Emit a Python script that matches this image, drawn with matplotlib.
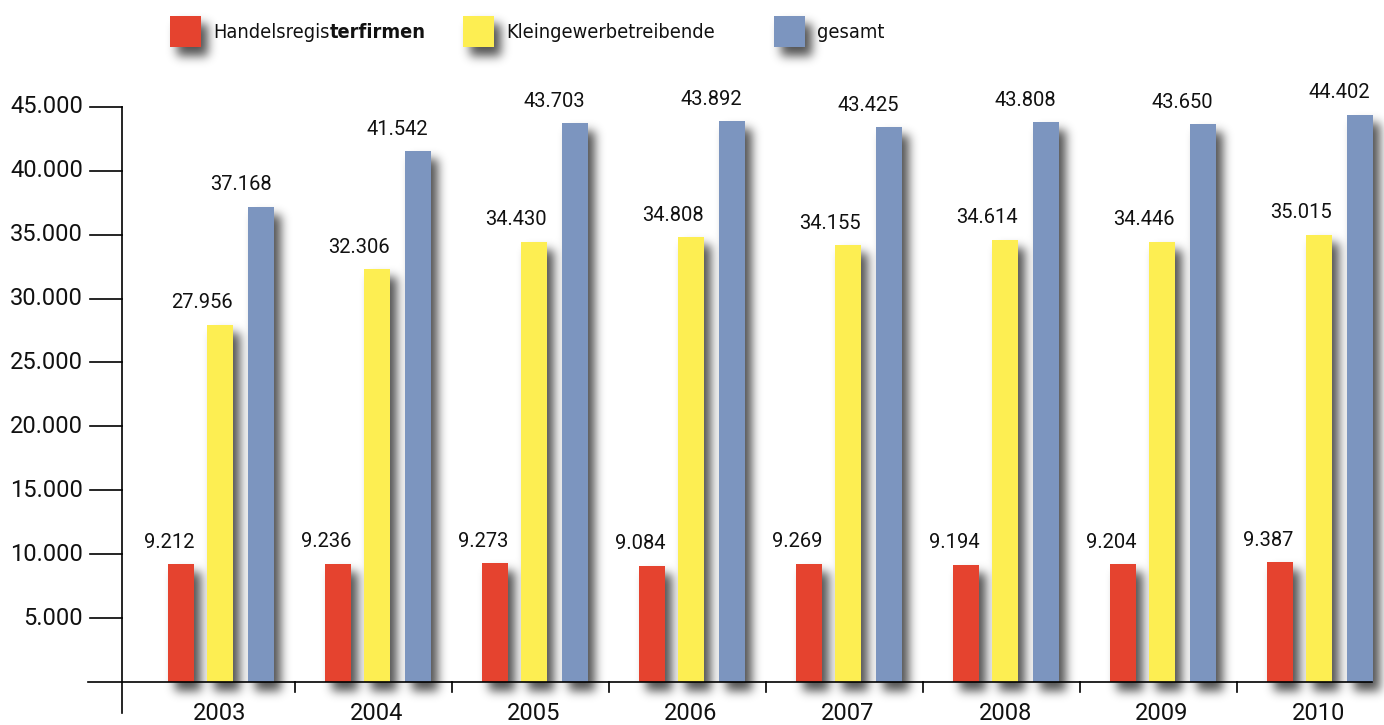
import matplotlib
matplotlib.use("Agg")
import matplotlib.pyplot as plt
from matplotlib.patches import Rectangle
import numpy as np

years = ["2003", "2004", "2005", "2006", "2007", "2008", "2009", "2010"]
handelsregister = [9212, 9236, 9273, 9084, 9269, 9194, 9204, 9387]
kleingewerbe = [27956, 32306, 34430, 34808, 34155, 34614, 34446, 35015]
gesamt = [37168, 41542, 43703, 43892, 43425, 43808, 43650, 44402]
yticks = [5000, 10000, 15000, 20000, 25000, 30000, 35000, 40000, 45000]

RED = "#e5432f"
YELLOW = "#fdee52"
BLUE = "#7c95bf"

NUM_FONT = ["Roboto", "DejaVu Sans"]

W, H = 1384, 725
fig = plt.figure(figsize=(W / 100, H / 100), dpi=100)
ax = fig.add_axes([0, 0, 1, 1])
ax.axis("off")

# pixel <-> data mapping: group centre at 220 + 157*i px, y=0 at 682 px
PX_X = 1 / 157.0
PX_Y = 1 / 0.01278
ax.set_xlim(-220 * PX_X, (W - 220) * PX_X)
ax.set_ylim(-(H - 682) * PX_Y, 682 * PX_Y)

x = np.arange(len(years))
width = 26 * PX_X
offsets = [-0.25, 0.0, 0.26]
label_shift = [-8.5, -13, -14.5]   # value labels sit a bit left of the bars
series = [(handelsregister, RED), (kleingewerbe, YELLOW), (gesamt, BLUE)]

# collect rectangles (data coords) that throw a soft shadow
shadow_rects = []

for (vals, col), off, ls in zip(series, offsets, label_shift):
    xs = x + off
    ax.bar(xs, vals, width=width, color=col, zorder=3)
    for xi, v in zip(xs, vals):
        shadow_rects.append((xi - width / 2, 0, xi + width / 2, v))
        ax.annotate(f"{v:,}".replace(",", "."), (xi, v), xytext=(ls, 9),
                    textcoords="offset points", ha="center", va="bottom",
                    fontsize=14.5, family=NUM_FONT, color="#111111", zorder=4)

# axes drawn by hand
yax = (122 - 220) * PX_X
ax.plot([yax, yax], [45000, -31 * PX_Y], color="black", lw=1.2, zorder=5)
ax.plot([(88 - 220) * PX_X, (1372 - 220) * PX_X], [0, 0], color="black", lw=1.2, zorder=5)
for t in yticks:
    ax.plot([(90 - 220) * PX_X, yax], [t, t], color="black", lw=1.2, zorder=5)
    ax.text((83 - 220) * PX_X, t, f"{t:,}".replace(",", "."), ha="right", va="center",
            fontsize=17, family=NUM_FONT, color="#111111")
for i in range(len(years) - 1):
    ax.plot([i + 0.48, i + 0.48], [0, -10 * PX_Y], color="black", lw=1.2, zorder=5)
for xi, yr in zip(x, years):
    ax.text(xi, -31 * PX_Y, yr, ha="center", va="center",
            fontsize=17, family=NUM_FONT, color="#111111")

# legend at the top
legend_items = [(RED, 170, "Handelsregis", "terfirmen"),
                (YELLOW, 463, "Kleingewerbetreibende", None),
                (BLUE, 774, "gesamt", None)]
for col, px, txt, bold in legend_items:
    x0 = (px - 220) * PX_X
    y0 = (682 - 47) * PX_Y
    w, h = 31 * PX_X, 31 * PX_Y
    shadow_rects.append((x0, y0, x0 + w, y0 + h))
    ax.add_patch(Rectangle((x0, y0), w, h, facecolor=col, lw=0, zorder=3))
    t = ax.text((px + 43 - 220) * PX_X, (682 - 33) * PX_Y, txt, ha="left", va="center",
                fontsize=14.3, family="DejaVu Sans", fontstretch="condensed", color="#111111")
    if bold:
        ax.annotate(bold, xy=(1, 0), xycoords=t, va="bottom", ha="left",
                    fontsize=14.3, family="DejaVu Sans", fontstretch="condensed",
                    fontweight="bold", color="#111111")

# soft drop shadow: rasterise the rectangles, blur them, show as an image
mask = np.zeros((H, W))
for x0, y0, x1, y1 in shadow_rects:
    (px0, py0), (px1, py1) = ax.transData.transform([(x0, y0), (x1, y1)])
    c0, c1 = int(round(px0)) + 7, int(round(px1)) + 7
    r0, r1 = H - int(round(py1)) + 8, H - int(round(py0)) + 9
    mask[max(r0, 0):min(r1, H), max(c0, 0):min(c1, W)] = 1.0
k = np.arange(-15, 16)
kern = np.exp(-k ** 2 / (2 * 5.0 ** 2))
kern /= kern.sum()
mask = np.apply_along_axis(lambda r: np.convolve(r, kern, mode="same"), 1, mask)
mask = np.apply_along_axis(lambda c: np.convolve(c, kern, mode="same"), 0, mask)
rgba = np.zeros((H, W, 4))
rgba[..., 3] = 0.68 * mask
ax.imshow(rgba, extent=(*ax.get_xlim(), *ax.get_ylim()), origin="upper",
          aspect="auto", interpolation="bilinear", zorder=1)

fig.savefig("out.png", dpi=100)
